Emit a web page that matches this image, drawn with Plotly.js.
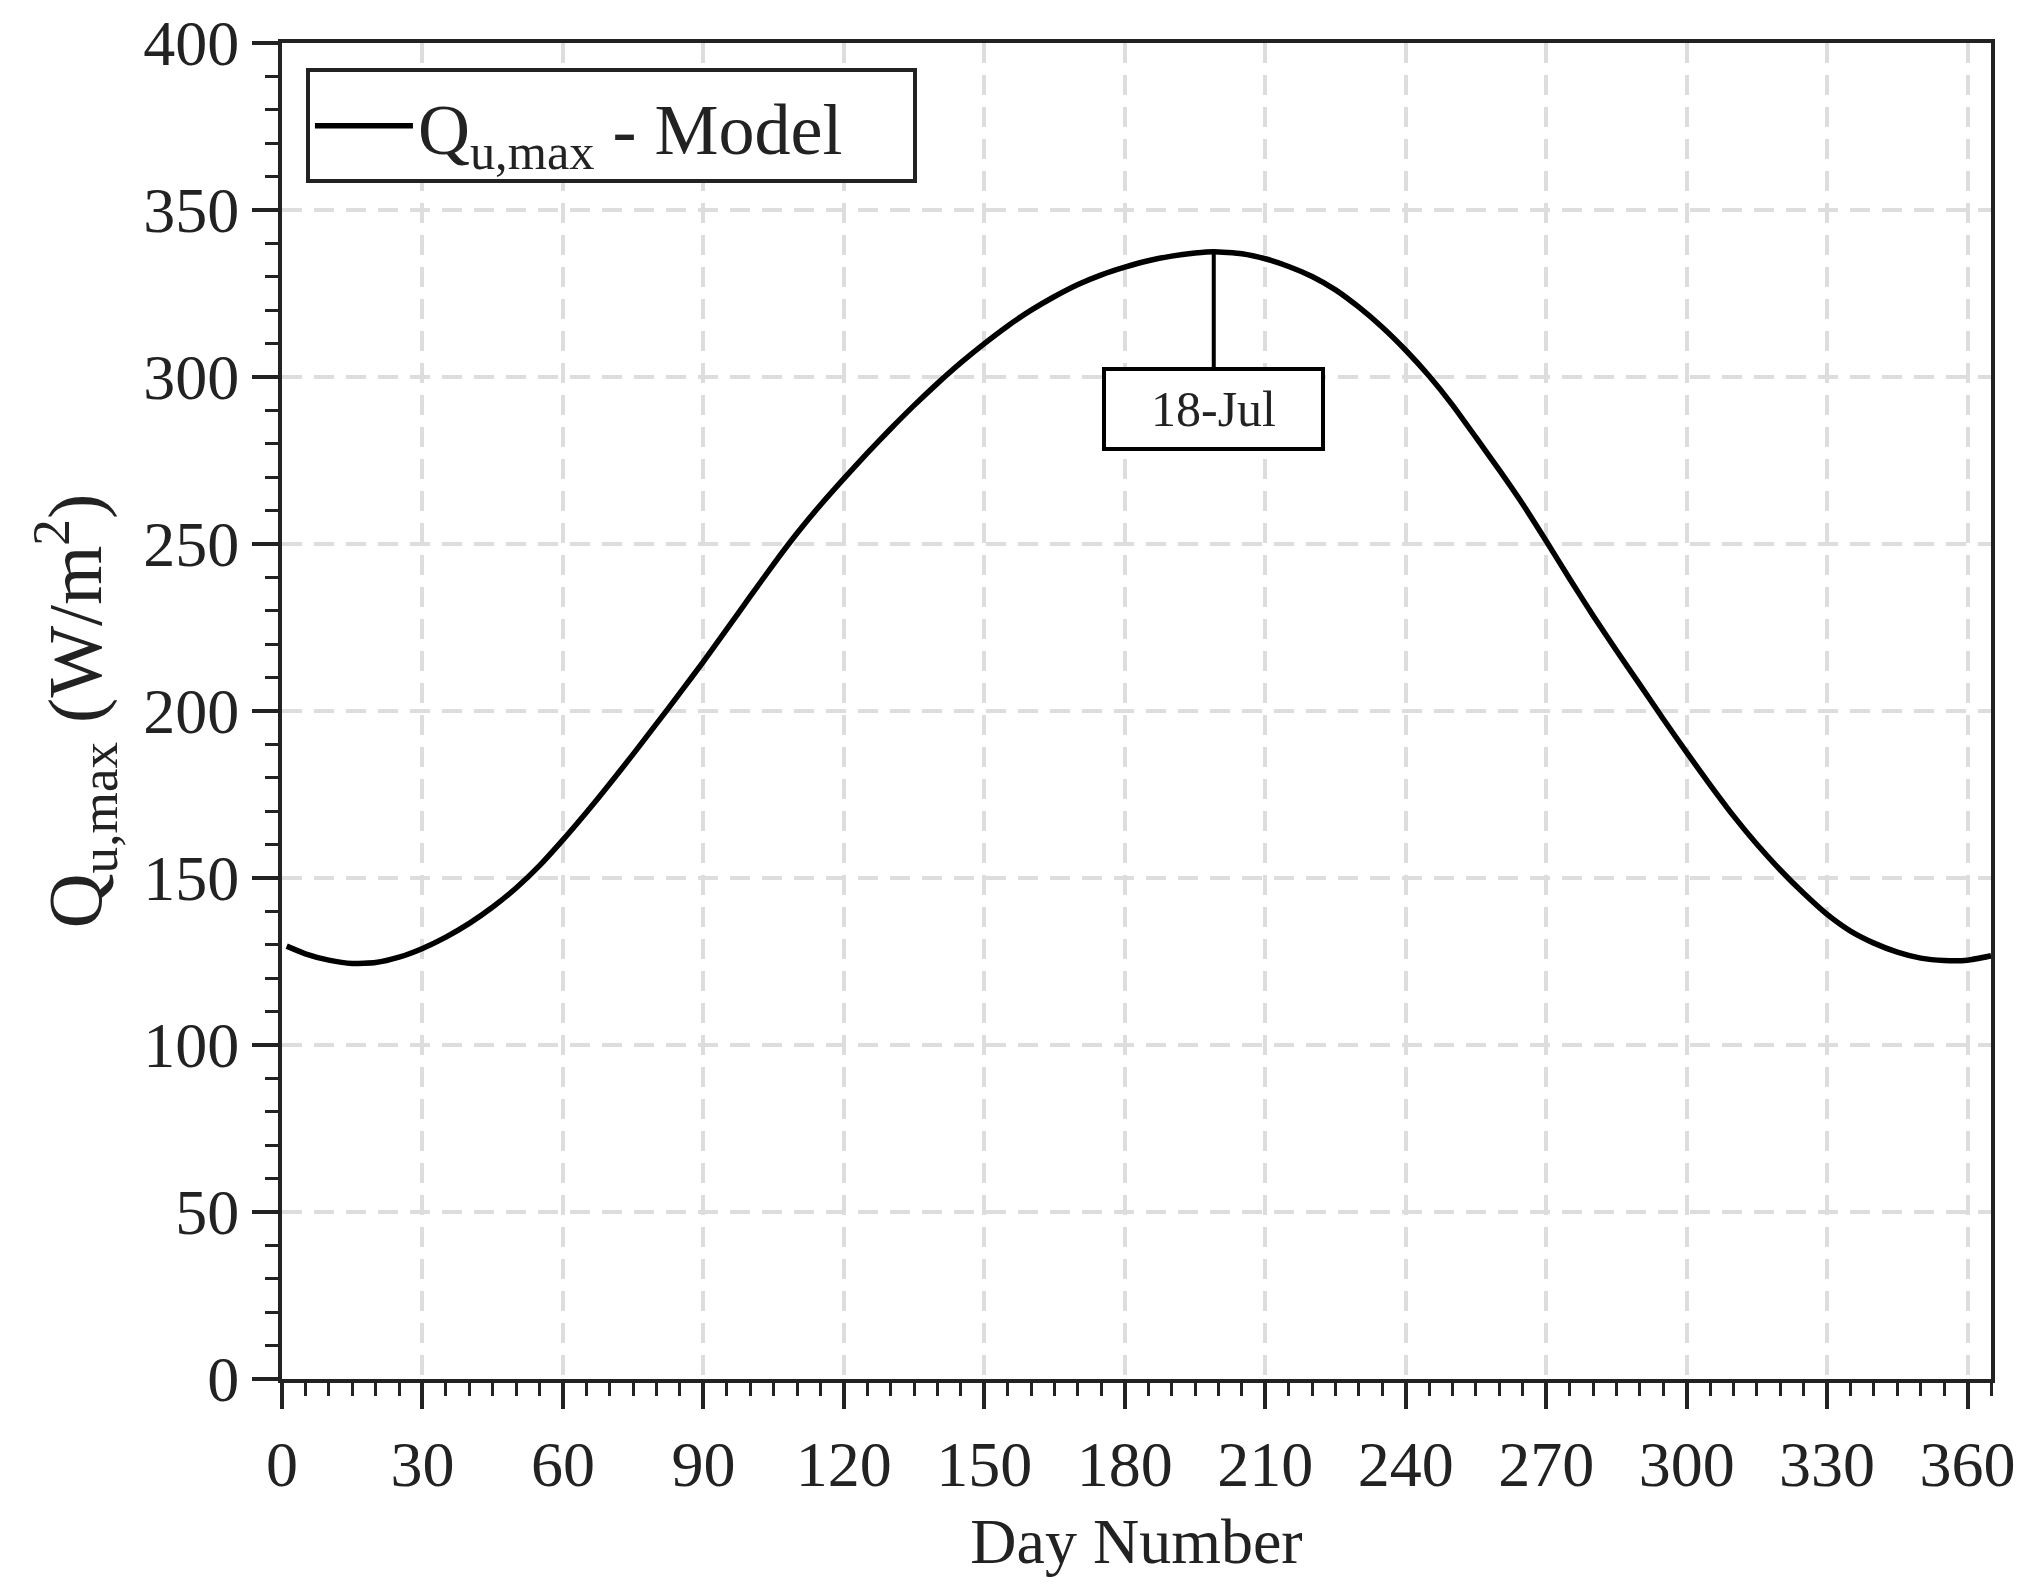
<!DOCTYPE html>
<html>
<head>
<meta charset="utf-8">
<script src="https://cdn.plot.ly/plotly-3.0.1.min.js"></script>
<style>
  html, body { margin: 0; padding: 0; background: #fff; }
  #graph { width: 2027px; height: 1585px; }
</style>
</head>
<body>
<div id="graph"></div>
<script>
// values
const dayNumber = [1, 5, 10, 15, 20, 25, 30, 35, 40, 45, 50, 55, 60, 65, 70, 75, 80, 85, 90, 95,
    100, 105, 110, 115, 120, 125, 130, 135, 140, 145, 150, 155, 160, 165, 170, 175, 180, 185, 190, 195,
    199, 205, 210, 215, 220, 225, 230, 235, 240, 245, 250, 255, 260, 265, 270, 275, 280, 285, 290, 295,
    300, 305, 310, 315, 320, 325, 330, 335, 340, 345, 350, 355, 360, 365];
const quMax = [129.6, 127.3, 125.4, 124.4, 124.7, 126.3, 128.9, 132.3, 136.4, 141.3, 147.0, 153.7, 161.4, 169.6, 178.2, 187.1, 196.2, 205.4, 214.8, 224.5,
    234.3, 244.0, 253.2, 261.7, 269.6, 277.2, 284.5, 291.5, 298.1, 304.3, 310.0, 315.3, 320.0, 324.1, 327.7, 330.6, 332.9, 334.8, 336.2, 337.1,
    337.5, 336.9, 335.4, 333.1, 330.1, 326.1, 320.9, 314.9, 308.0, 300.3, 291.6, 281.9, 272.1, 261.9, 250.9, 239.6, 228.6, 218.1, 207.9, 197.6,
    187.6, 177.9, 168.6, 160.1, 152.4, 145.4, 139.1, 134.1, 130.5, 127.8, 126.0, 125.3, 125.4, 126.7];

const xTicks = [0, 30, 60, 90, 120, 150, 180, 210, 240, 270, 300, 330, 360];
const yTicks = [0, 50, 100, 150, 200, 250, 300, 350, 400];

const peakDay = 199;
const peakValue = 337.5;
const peakLabel = '18-Jul';

const FONT = '"Liberation Serif", "Times New Roman", serif';
const INK = '#222';

let trace = {
    type: 'scatter',
    mode: 'lines',
    x: dayNumber,
    y: quMax,
    name: 'Q<sub>u,max</sub> - Model',
    line: { color: '#000', width: 5.5, shape: 'spline', smoothing: 0.5 }
};

let axisCommon = {
    showline: true,
    linecolor: INK,
    linewidth: 4,
    mirror: true,
    ticks: 'outside',
    ticklen: 26,
    tickwidth: 4,
    tickcolor: INK,
    showgrid: true,
    gridcolor: '#dddddd',
    gridwidth: 4,
    griddash: '20px,12px',
    zeroline: false,
    tickfont: { family: FONT, size: 64, color: INK }
};

let layout = {
    width: 2027,
    height: 1585,
    margin: { l: 282, r: 36, t: 43, b: 206 },
    paper_bgcolor: '#fff',
    plot_bgcolor: '#fff',
    font: { family: FONT, color: INK },
    showlegend: true,
    legend: {
        x: 0.014,
        y: 0.981,
        xanchor: 'left',
        yanchor: 'top',
        orientation: 'h',
        bgcolor: '#fff',
        bordercolor: INK,
        borderwidth: 4,
        itemwidth: 98,
        entrywidth: 490,
        font: { family: FONT, size: 72, color: INK }
    },
    xaxis: Object.assign({}, axisCommon, {
        range: [0, 365],
        tickmode: 'array',
        tickvals: xTicks,
        ticktext: xTicks.map(String),
        minor: { dtick: 5, tick0: 0, ticks: 'outside', ticklen: 13, tickwidth: 3, tickcolor: INK, showgrid: false },
        title: { text: 'Day Number', font: { family: FONT, size: 64, color: INK }, standoff: 20 }
    }),
    yaxis: Object.assign({}, axisCommon, {
        range: [0, 400],
        tickmode: 'array',
        tickvals: yTicks,
        ticktext: yTicks.map(String),
        minor: { dtick: 10, tick0: 0, ticks: 'outside', ticklen: 13, tickwidth: 3, tickcolor: INK, showgrid: false },
        title: { text: 'Q<sub>u,max</sub> (W/m<sup>2</sup>)', font: { family: FONT, size: 76, color: INK }, standoff: 18 }
    }),
    annotations: [{
        x: peakDay,
        y: peakValue,
        xref: 'x',
        yref: 'y',
        text: peakLabel,
        font: { family: FONT, size: 50, color: INK },
        showarrow: true,
        arrowhead: 0,
        arrowwidth: 4,
        arrowcolor: '#000',
        ax: 0,
        ay: 157,
        standoff: 0,
        bgcolor: '#fff',
        bordercolor: '#000',
        borderwidth: 4,
        borderpad: 0,
        width: 215,
        height: 76
    }]
};

Plotly.newPlot('graph', [trace], layout, { displayModeBar: false, staticPlot: true });
</script>
</body>
</html>
